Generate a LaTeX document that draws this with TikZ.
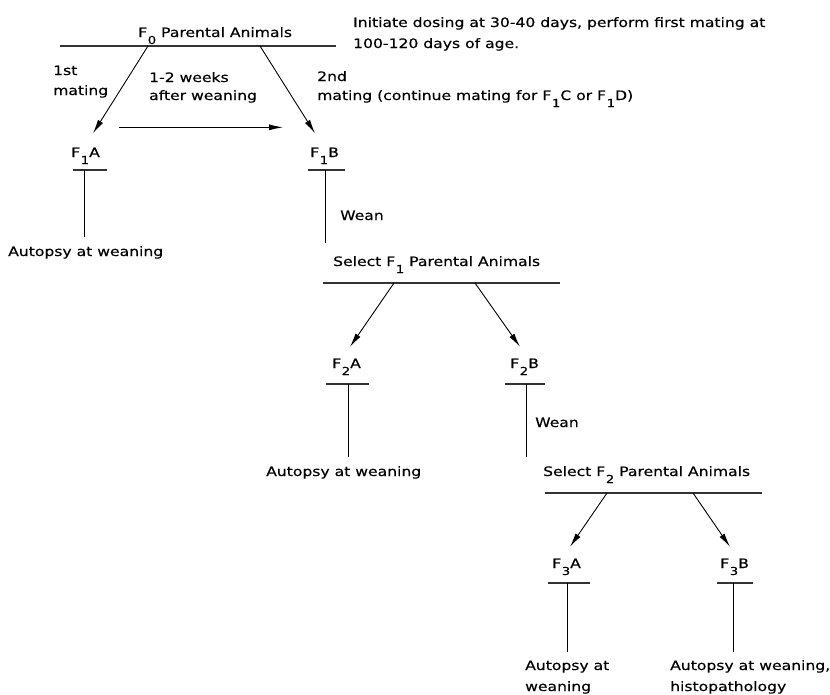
\documentclass[tikz,border=0pt]{standalone}
\usepackage{fontspec}
\setmainfont[FakeStretch=1.2,FakeBold=0.4]{DejaVu Sans}
\usetikzlibrary{arrows.meta,calc}
\newcommand\Fs[1]{F\kern0.6pt\raisebox{-7pt}{\fontsize{11pt}{11pt}\selectfont #1}}
\begin{document}
\begin{tikzpicture}[x=1pt,y=-1pt,
  lbl/.style={inner sep=0pt, anchor=base west, font=\fontsize{13pt}{15pt}\selectfont},
  arr/.style={line width=0.9pt, -{Latex[length=14pt,width=6pt]}},
  rule/.style={line width=1.4pt, black!80},
  stem/.style={line width=0.9pt},
  bar/.style={line width=1.3pt, black!80}]
\useasboundingbox (0,0) rectangle (830,694);

% ---- F0 level
\node[lbl] (f0) at (138,37) {\Fs{0} Parental Animals};
\node[lbl] (ini1) at (353,27) {Initiate dosing at 30-40 days, perform first mating at};
\node[lbl] (ini2) at (353,48) {100-120 days of age.};
\coordinate (r0l) at (60,46);
\coordinate (r0r) at (336,46);
\draw[rule] (r0l) -- (r0r);
\coordinate (s1) at (148,46);
\coordinate (s2) at (260,46);

\node[lbl] (m1a) at (53,75) {1st};
\node[lbl] (m1b) at (53,95) {mating};
\node[lbl] (w1) at (149,82) {1-2 weeks};
\node[lbl] (w2) at (149,100) {after weaning};
\node[lbl] (m2a) at (317,81) {2nd};
\node[lbl] (m2b) at (317,100) {mating (continue mating for \Fs{1}C or \Fs{1}D)};

% ---- F1 level
\node[lbl] (f1a) at (71,157) {\Fs{1}A};
\node[lbl] (f1b) at (310,157) {\Fs{1}B};
\draw[arr] (s1) -- ($(f1a.north west)+(22,-14)$);
\draw[arr] (s2) -- ($(f1b.north west)+(5,-14)$);
\draw[arr] ($(f1a.north east)+(19,-20)$) -- ($(f1b.north west)+(-27,-20)$);

\node[lbl] (au1) at (8,256) {Autopsy at weaning};
\draw[bar] ($(f1a.base west)+(2,13)$) -- ++(34,0);
\coordinate (v1) at ($(f1a.base west)+(13,13)$);
\draw[stem] (v1) -- ($(v1 |- au1.north)+(0,-9)$);

\node[lbl] (wean1) at (340,220) {Wean};
\node[lbl] (sel1) at (333,266) {Select \Fs{1} Parental Animals};
\draw[bar] ($(f1b.base west)+(-2,13)$) -- ++(37,0);
\coordinate (v2) at ($(f1b.base west)+(15,13)$);
\draw[stem] (v2) -- ($(v2 |- sel1.north)+(0,-13)$);

% ---- F2 level
\coordinate (r1l) at ($(sel1.base west)+(-10,17)$);
\coordinate (r1r) at ($(sel1.base west)+(227,17)$);
\draw[rule] (r1l) -- (r1r);
\coordinate (s3) at ($(sel1.base west)+(61,17)$);
\coordinate (s4) at ($(sel1.base west)+(142,17)$);

\node[lbl] (f2a) at (332,368) {\Fs{2}A};
\node[lbl] (f2b) at (510,368) {\Fs{2}B};
\draw[arr] (s3) -- ($(f2a.north west)+(18,-11.5)$);
\draw[arr] (s4) -- ($(f2b.north west)+(10,-11.5)$);

\node[lbl] (au2) at (266,476) {Autopsy at weaning};
\draw[bar] ($(f2a.base west)+(-6,16)$) -- ++(43,0);
\coordinate (v3) at ($(f2a.base west)+(16,16)$);
\draw[stem] (v3) -- ($(v3 |- au2.north)+(0,-9)$);

\node[lbl] (wean2) at (535,427) {Wean};
\node[lbl] (sel2) at (543,476) {Select \Fs{2} Parental Animals};
\draw[bar] ($(f2b.base west)+(-5,16)$) -- ++(40,0);
\coordinate (v4) at ($(f2b.base west)+(16,16)$);
\draw[stem] (v4) -- ($(v4 |- sel2.north)+(0,-9)$);

% ---- F3 level
\coordinate (r2l) at ($(sel2.base west)+(2,17)$);
\coordinate (r2r) at ($(sel2.base west)+(219,17)$);
\draw[rule] (r2l) -- (r2r);
\coordinate (s5) at ($(sel2.base west)+(64,17)$);
\coordinate (s6) at ($(sel2.base west)+(150,17)$);

\node[lbl] (f3a) at (552,568) {\Fs{3}A};
\node[lbl] (f3b) at (720,568) {\Fs{3}B};
\draw[arr] (s5) -- ($(f3a.north west)+(18,-11.5)$);
\draw[arr] (s6) -- ($(f3b.north west)+(10,-11.5)$);

\node[lbl] (au3a) at (525,670) {Autopsy at};
\node[lbl] (au3a2) at (525,691) {weaning};
\node[lbl] (au3b) at (670,670) {Autopsy at weaning,};
\node[lbl] (au3b2) at (670,691) {histopathology};
\draw[bar] ($(f3a.base west)+(-4,15)$) -- ++(42,0);
\coordinate (v5) at ($(f3a.base west)+(15,15)$);
\draw[stem] (v5) -- ($(v5 |- au3a.north)+(0,-8)$);
\draw[bar] ($(f3b.base west)+(-3,15)$) -- ++(36,0);
\coordinate (v6) at ($(f3b.base west)+(13,15)$);
\draw[stem] (v6) -- ($(v6 |- au3b.north)+(0,-8)$);
\end{tikzpicture}
\end{document}
